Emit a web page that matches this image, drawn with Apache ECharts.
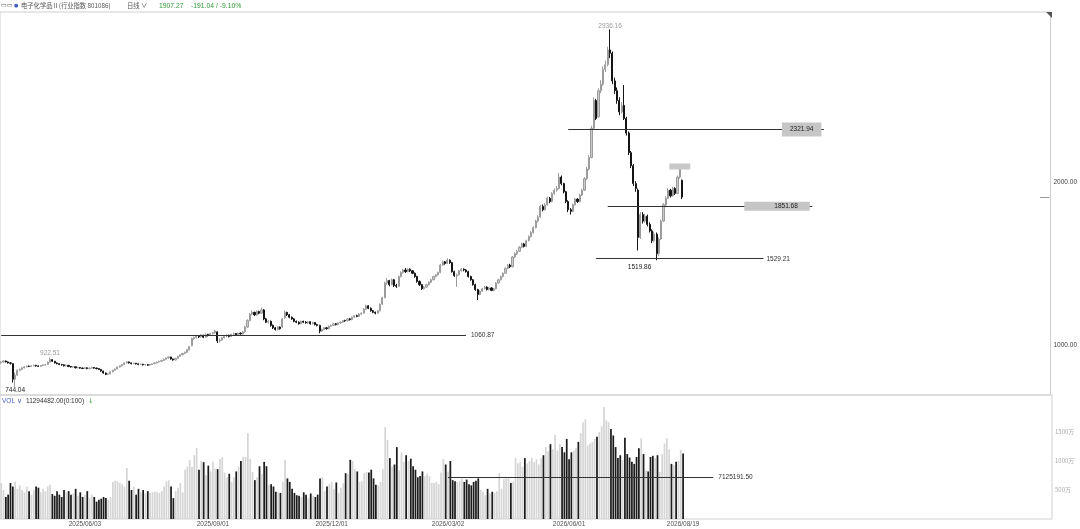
<!DOCTYPE html>
<html><head><meta charset="utf-8">
<script src="https://cdn.jsdelivr.net/npm/echarts@6/dist/echarts.min.js"></script>
<style>html,body{margin:0;padding:0;background:#fff}#c{width:1080px;height:529px}</style>
</head><body><div id="c"></div>
<script>
// daily bars: [open, close, low, high]
const ohlc = [
[890,895,885,900],[895,902,892,906],[902,896,893,904],[896,890,886,899],[890,888,880,893],[885,790,770,888],[790,815,744.04,830],[815,845,812,850],[845,850,838,856],[850,860,846,864],
[860,866,856,870],[866,870,862,874],[870,868,864,874],[868,872,865,876],[872,875,868,879],[875,871,867,878],[871,869,865,874],[869,874,866,877],[874,878,870,881],[878,880,874,884],
[880,895,878,898],[895,912,892,922.51],[910,900,896,912],[900,890,886,902],[890,885,881,893],[885,880,876,888],[880,878,873,884],[878,872,868,880],[872,875,869,879],[875,868,864,877],
[868,865,861,871],[865,866,861,870],[866,860,856,868],[860,862,857,866],[862,858,854,864],[858,856,852,861],[856,860,853,863],[860,855,851,862],[855,858,852,861],[858,862,855,866],
[862,858,854,864],[858,855,850,861],[855,850,846,857],[850,840,836,852],[840,828,824,842],[828,820,815,831],[820,822,816,826],[822,835,820,838],[835,845,832,848],[845,852,842,856],
[852,865,850,868],[865,872,861,875],[872,880,869,884],[880,890,877,893],[890,896,886,900],[896,890,886,898],[890,885,881,892],[885,888,882,891],[888,884,880,890],[884,880,876,886],
[880,882,877,885],[882,878,874,884],[878,880,875,883],[880,876,872,882],[876,880,873,883],[880,885,877,888],[885,890,882,893],[890,895,887,898],[895,900,892,903],[900,905,897,909],
[905,912,902,916],[912,920,909,924],[920,926,916,930],[926,914,910,928],[914,908,904,916],[908,918,905,921],[918,930,915,933],[930,940,927,943],[940,948,936,952],[948,955,944,959],
[955,970,952,974],[970,990,966,994],[995,1040,992,1046],[1040,1045,1032,1052],[1045,1055,1040,1062],[1055,1050,1042,1060],[1050,1060,1045,1066],[1060,1048,1042,1063],[1048,1065,1045,1070],[1065,1058,1052,1068],
[1058,1070,1054,1075],[1070,1075,1064,1080],[1075,1086,1070,1092],[1080,1025,1012,1084],[1025,1030,1015,1040],[1030,1045,1026,1050],[1045,1055,1040,1060],[1055,1060,1048,1066],[1060,1052,1046,1063],[1052,1065,1049,1069],
[1065,1070,1060,1075],[1070,1062,1057,1073],[1062,1072,1058,1076],[1072,1068,1063,1077],[1068,1080,1064,1086],[1080,1110,1076,1116],[1110,1150,1106,1158],[1150,1190,1145,1196],[1190,1200,1182,1210],[1200,1185,1178,1204],
[1185,1205,1180,1212],[1205,1195,1188,1210],[1195,1215,1190,1230],[1215,1160,1152,1220],[1160,1140,1134,1166],[1140,1145,1132,1152],[1145,1120,1112,1150],[1120,1105,1098,1126],[1105,1095,1088,1110],[1095,1110,1090,1115],
[1110,1100,1094,1114],[1110,1160,1105,1165],[1165,1200,1160,1212],[1200,1185,1178,1204],[1185,1170,1164,1190],[1170,1160,1154,1175],[1160,1145,1140,1165],[1145,1140,1134,1150],[1140,1130,1125,1145],[1130,1145,1127,1150],
[1145,1140,1134,1149],[1140,1135,1130,1146],[1135,1142,1131,1147],[1142,1130,1125,1145],[1130,1138,1126,1142],[1138,1125,1120,1141],[1125,1120,1114,1130],[1120,1085,1072,1124],[1085,1095,1080,1100],[1095,1105,1090,1110],
[1105,1100,1094,1110],[1100,1115,1097,1119],[1115,1120,1110,1125],[1120,1130,1116,1134],[1130,1125,1120,1135],[1125,1135,1121,1139],[1135,1140,1130,1145],[1140,1150,1136,1154],[1150,1148,1142,1155],[1148,1160,1145,1165],
[1160,1155,1150,1166],[1155,1170,1152,1175],[1170,1180,1166,1185],[1180,1175,1170,1186],[1175,1190,1172,1195],[1190,1195,1184,1200],[1195,1220,1192,1226],[1220,1240,1215,1248],[1240,1225,1220,1244],[1225,1210,1204,1230],
[1210,1200,1195,1214],[1200,1195,1188,1205],[1195,1210,1192,1215],[1210,1250,1206,1255],[1250,1290,1246,1296],[1290,1380,1286,1388],[1380,1395,1370,1410],[1395,1370,1360,1400],[1370,1400,1366,1408],[1400,1365,1355,1405],
[1365,1360,1350,1375],[1360,1420,1356,1426],[1420,1445,1414,1452],[1445,1460,1438,1468],[1460,1450,1442,1472],[1450,1465,1446,1470],[1465,1455,1448,1470],[1455,1440,1434,1460],[1440,1420,1412,1445],[1420,1390,1382,1425],
[1390,1370,1362,1396],[1370,1345,1338,1375],[1345,1355,1340,1362],[1355,1370,1350,1376],[1370,1385,1365,1390],[1385,1400,1380,1406],[1400,1420,1396,1425],[1420,1430,1414,1436],[1430,1445,1425,1450],[1445,1490,1440,1496],
[1490,1510,1484,1518],[1510,1500,1492,1515],[1500,1520,1496,1533],[1520,1505,1498,1525],[1505,1450,1444,1510],[1450,1425,1418,1456],[1425,1430,1356,1438],[1430,1455,1426,1460],[1455,1465,1450,1472],[1465,1460,1452,1470],
[1460,1450,1444,1465],[1450,1420,1414,1455],[1420,1400,1394,1425],[1400,1370,1364,1405],[1370,1340,1332,1376],[1340,1310,1276,1345],[1310,1330,1305,1336],[1330,1345,1325,1350],[1345,1355,1340,1362],[1355,1340,1334,1360],
[1340,1350,1335,1356],[1350,1335,1330,1355],[1335,1345,1330,1350],[1345,1380,1342,1385],[1380,1400,1375,1406],[1400,1420,1396,1426],[1420,1440,1415,1446],[1440,1470,1436,1476],[1470,1490,1465,1496],[1490,1480,1472,1498],
[1480,1540,1476,1546],[1540,1560,1534,1568],[1560,1575,1552,1582],[1575,1600,1570,1606],[1600,1620,1594,1628],[1620,1605,1598,1626],[1605,1640,1600,1646],[1640,1665,1635,1672],[1665,1690,1660,1698],[1690,1720,1684,1728],
[1720,1760,1714,1768],[1760,1785,1752,1795],[1785,1850,1780,1860],[1850,1830,1820,1862],[1830,1860,1825,1870],[1860,1900,1855,1910],[1900,1880,1870,1908],[1880,1930,1875,1938],[1930,1950,1922,1960],[1950,1960,1940,1975],
[1960,2030,1955,2055],[2030,1990,1980,2040],[1990,1940,1930,1995],[1940,1880,1870,1945],[1880,1830,1815,1888],[1830,1820,1800,1840],[1820,1860,1815,1868],[1860,1895,1855,1902],[1895,1880,1872,1900],[1880,1920,1876,1928],
[1920,1950,1914,1958],[1950,2020,1945,2030],[2020,2080,2012,2092],[2080,2150,2072,2165],[2150,2330,2145,2345],[2330,2500,2320,2520],[2500,2390,2380,2510],[2400,2560,2395,2575],[2560,2600,2545,2625],[2600,2690,2590,2710],
[2690,2720,2675,2745],[2720,2810,2710,2830],[2810,2790,2760,2936.16],[2790,2620,2600,2800],[2620,2560,2540,2640],[2560,2500,2480,2580],[2500,2430,2410,2520],[2430,2470,2420,2490],[2470,2390,2380,2595],[2390,2300,2285,2400],
[2300,2180,2165,2310],[2180,2100,2085,2190],[2100,1990,1975,2110],[1990,1960,1940,2005],[1950,1660,1580,1960],[1660,1800,1650,1815],[1800,1760,1745,1815],[1760,1790,1750,1805],[1790,1740,1728,1800],[1740,1700,1690,1752],
[1700,1640,1625,1710],[1640,1680,1630,1695],[1680,1560,1519.86,1690],[1560,1650,1545,1660],[1650,1760,1645,1770],[1760,1860,1755,1870],[1860,1900,1850,1912],[1900,1950,1895,1962],[1950,1915,1905,1958],[1915,1960,1910,1970],
[1960,1930,1920,1968],[1930,2030,1925,2040],[2030,2098.31,2020,2110],[2010,1907.27,1895,2015]
];
// volume in 万
const volume = [
620,500,380,420,620,560,640,520,580,500,
460,560,480,420,500,560,540,460,520,480,
560,590,430,400,480,420,380,500,460,480,
420,440,520,400,460,380,420,480,360,420,
380,300,330,350,380,360,330,380,640,660,
650,620,600,560,880,660,500,560,420,520,
460,500,440,480,450,460,470,460,450,480,
560,650,670,560,360,480,540,620,460,850,
900,1015,895,1100,1225,850,1000,980,760,920,
820,985,870,860,1035,1070,800,720,780,640,
720,820,900,1000,1070,1070,1480,1035,810,670,
720,910,773,985,910,590,600,560,470,460,
450,640,1020,700,640,520,450,410,400,380,
460,420,360,440,400,380,420,700,720,480,
560,600,640,520,630,450,540,620,790,775,
1020,1000,860,820,640,650,790,810,800,850,
700,590,580,640,860,1585,1360,1050,910,940,
1240,842,1150,985,1100,1000,1040,910,850,720,
740,820,740,780,740,620,620,640,600,800,
1035,940,820,1000,670,650,640,660,700,640,
680,600,580,640,660,700,500,470,410,520,
440,470,450,480,790,520,690,700,700,620,
640,1050,960,985,900,1050,960,1000,1050,980,
1030,940,1050,1100,1240,1170,1290,1200,1450,1180,
1290,1240,1150,1380,1030,1150,1180,1230,1330,1480,
1670,1720,1270,1300,1330,1380,1420,1500,1600,1930,
1700,1670,1550,1440,1240,1050,1100,1020,1400,1120,
1060,985,950,1070,1220,1390,1120,840,820,1070,
1090,1050,1100,810,1120,1300,1390,1200,950,930,
985,1000,1190,1129.4482
];
const tickDates = ['2025/06/03','2025/09/01','2025/12/01','2026/03/02','2026/06/01','2026/08/19'];
const tickBars = [36, 91, 142, 192, 244, 293];
const priceTicks = [1000, 2000];
const volTicks = [500, 1000, 1500];
// horizontal reference levels: [value, fromBar, toBar]
const levels = [
  [1060.87, 0, 200],
  [2321.94, 244, 354],
  [1851.68, 261, 349],
  [1529.21, 256, 328]
];
const volAvg = 712.519150; // 7125191.50
const lastClose = 1907.27, change = -191.04, changePct = -9.10;
const TOTAL = 452; // category slots incl. empty right area

const cats = [];
for (let i = 0; i < TOTAL; i++) {
  const k = tickBars.indexOf(i);
  cats.push(k >= 0 ? tickDates[k] : 'b' + i);
}
const UP = '#c9c9c9', UPB = '#9c9c9c', DN = '#151515';
const VUP = '#d6d6d6', VDN = '#1c1c1c';
const NUMF = 'Liberation Sans, Arial, sans-serif';
const CJK = 'Noto Sans CJK SC, sans-serif';

const lvlLabel = [
  {position:'end', distance:5, color:'#333'},
  {position:'end', distance:-42, color:'#222', backgroundColor:'#c6c6c6', padding:[4,8,3,8]},
  {position:'end', distance:-68, color:'#222', backgroundColor:'#c6c6c6', padding:[1,12,1,30]},
  {position:'end', distance:3, color:'#333'}
];
const lineData = levels.map((l, k) => [
  {coord:[l[1], l[0]], label: Object.assign({show:true, formatter: l[0].toFixed(2), fontSize:6.5, fontFamily:NUMF}, lvlLabel[k])},
  {coord:[l[2], l[0]]}
]);
lineData.push([{coord:[447, lastClose], lineStyle:{color:'#999'}, label:{show:false}}, {coord:[451, lastClose]}]);

const chart = echarts.init(document.getElementById('c'));
chart.setOption({
  animation:false,
  backgroundColor:'#fff',
  grid:[
    {left:0, right:28, top:12, height:383, show:true, borderColor:'#cfcfcf', borderWidth:1},
    {left:0, right:28, top:395, height:124, show:true, borderColor:'#cfcfcf', borderWidth:1}
  ],
  xAxis:[
    {type:'category', gridIndex:0, data:cats, axisLine:{show:false}, axisTick:{show:false}, axisLabel:{show:false}, splitLine:{show:false}},
    {type:'category', gridIndex:1, data:cats, axisLine:{show:false}, axisTick:{show:false}, splitLine:{show:false},
     axisLabel:{interval:(i, v) => tickDates.indexOf(v) >= 0, color:'#555', fontSize:6.5, fontFamily:NUMF, margin:2}}
  ],
  yAxis:[
    {type:'value', gridIndex:0, position:'right', min:693, max:3043, splitLine:{show:false}, axisLine:{show:false}, axisTick:{show:false},
     axisLabel:{customValues:priceTicks, formatter:v => v.toFixed(2), color:'#444', fontSize:6.5, fontFamily:NUMF, margin:3}},
    {type:'value', gridIndex:1, position:'right', min:0, max:2138, splitLine:{show:false}, axisLine:{show:false}, axisTick:{show:false},
     axisLabel:{customValues:volTicks, formatter:v => v + '万', color:'#aaa', fontSize:6, fontFamily:CJK, margin:3}}
  ],
  series:[
    {type:'candlestick', xAxisIndex:0, yAxisIndex:0, data:ohlc, barWidth:'70%',
     itemStyle:{color:UP, color0:DN, borderColor:UPB, borderColor0:DN, borderWidth:1},
     markLine:{symbol:['none','none'], silent:true, animation:false, lineStyle:{color:'#333', width:1, type:'solid'},
       emphasis:{disabled:true}, data:lineData},
     markPoint:{silent:true, animation:false, data:[
       {coord:[262, 2936.16], symbol:'rect', symbolSize:1, itemStyle:{color:'rgba(0,0,0,0)'},
        label:{show:true, position:'top', distance:-1, formatter:'2936.16', color:'#999', fontSize:6.5, fontFamily:NUMF}},
       {coord:[21, 922.51], symbol:'rect', symbolSize:1, itemStyle:{color:'rgba(0,0,0,0)'},
        label:{show:true, position:'top', distance:0, formatter:'922.51', color:'#999', fontSize:6.5, fontFamily:NUMF}},
       {coord:[282, 1519.86], symbol:'rect', symbolSize:1, itemStyle:{color:'rgba(0,0,0,0)'},
        label:{show:true, position:'bottom', distance:3, offset:[-17,0], formatter:'1519.86', color:'#222', fontSize:6.5, fontFamily:NUMF}},
       {coord:[6, 744.04], symbol:'rect', symbolSize:1, itemStyle:{color:'rgba(0,0,0,0)'},
        label:{show:true, position:'bottom', distance:0, formatter:'744.04', color:'#222', fontSize:6.5, fontFamily:NUMF}},
       {coord:[291.5, 2095], symbol:'rect', symbolSize:[21,6], itemStyle:{color:'#c8c8c8'}, label:{show:false}}
     ]}
    },
    {type:'bar', xAxisIndex:1, yAxisIndex:1, barCategoryGap:'25%',
     data: volume.map((v, i) => ({value:v, itemStyle:{color: ohlc[i][1] >= ohlc[i][0] ? VUP : VDN}})),
     markLine:{symbol:['none','none'], silent:true, animation:false, lineStyle:{color:'#333', width:1, type:'solid'},
       data:[[{coord:[192, volAvg], label:{show:true, position:'end', distance:5, formatter:(volAvg*10000).toFixed(2), color:'#333', fontSize:6.5, fontFamily:NUMF}}, {coord:[306, volAvg]}]]}
    }
  ],
  graphic:[
    {type:'text', x:1, y:2, style:{text:'▭▭', fill:'#555', font:'6px DejaVu Sans'}},
    {type:'text', x:14, y:3, style:{text:'●', fill:'#3f5dbf', font:'5px DejaVu Sans'}},
    {type:'text', x:21, y:2.5, style:{text:'电子化学品Ⅱ(行业指数 801086)', fill:'#555', font:'6.3px "Noto Sans CJK SC"'}},
    {type:'text', x:127, y:2.5, style:{text:'日线 ∨', fill:'#555', font:'6.3px "Noto Sans CJK SC"'}},
    {type:'text', x:159, y:3, style:{text:lastClose.toFixed(2), fill:'#2e9a36', font:'6.8px Liberation Sans'}},
    {type:'text', x:191, y:3, style:{text:change.toFixed(2) + ' / ' + changePct.toFixed(2) + '%', fill:'#2e9a36', font:'6.8px Liberation Sans'}},
    {type:'text', x:2, y:397.5, style:{text:'VOL ∨', fill:'#4a5cc0', font:'6.5px Liberation Sans'}},
    {type:'text', x:26, y:397.5, style:{text:(volume[volume.length-1]*10000).toFixed(2) + '(0:100)', fill:'#333', font:'6.5px Liberation Sans'}},
    {type:'text', x:88, y:397.5, style:{text:'↓', fill:'#3a9a3a', font:'6.5px DejaVu Sans'}},
    {type:'polygon', shape:{points:[[1046,12],[1052,12],[1052,18]]}, style:{fill:'#555'}}
  ]
});
</script></body></html>
